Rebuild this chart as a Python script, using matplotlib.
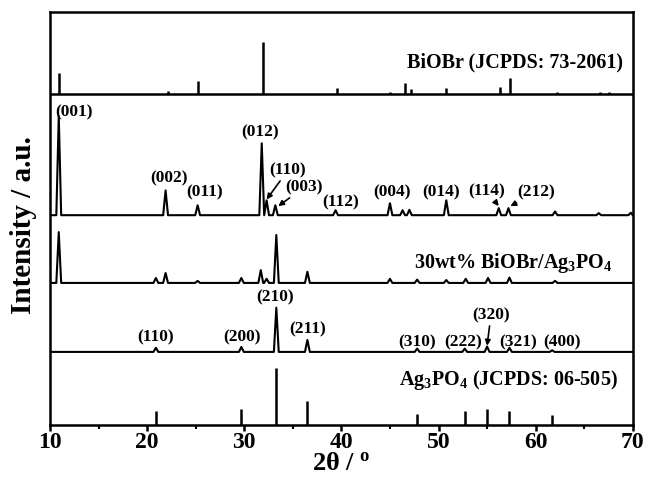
import numpy as np
import matplotlib
matplotlib.use("Agg")
from matplotlib import pyplot as plt

plt.rcParams['font.family'] = ['Liberation Serif', 'DejaVu Serif']
plt.rcParams['font.weight'] = 'bold'
plt.rcParams['mathtext.fontset'] = 'custom'
plt.rcParams['mathtext.rm'] = 'Liberation Serif:bold'
plt.rcParams['mathtext.bf'] = 'Liberation Serif:bold'
plt.rcParams['mathtext.it'] = 'Liberation Serif:bold'

# reference stick patterns (2theta, relative height)
biobr_ref_pos = [10.9, 22.1, 25.2, 31.9, 39.5, 45.0, 46.5, 47.2, 50.8, 56.3, 57.4, 62.2, 66.6, 67.6]
biobr_ref_h = [5.1, 0.8, 3.2, 12.6, 1.5, 0.6, 2.7, 1.2, 1.5, 1.7, 3.9, 0.6, 0.5, 0.6]

ag3po4_ref_pos = [20.9, 29.7, 33.3, 36.5, 47.8, 52.7, 55.0, 57.3, 61.7]
ag3po4_ref_h = [3.4, 3.9, 13.8, 5.8, 2.7, 3.4, 3.9, 3.4, 2.4]

# measured patterns: peak positions and heights above their baseline
biobr_pos = [10.9, 21.9, 25.2, 31.8, 32.3, 33.2, 39.4, 45.0, 46.3, 47.0, 50.8, 56.2, 57.2, 62.0, 66.5, 69.8]
biobr_h = [24.0, 6.0, 2.4, 17.4, 3.6, 2.4, 1.2, 2.9, 1.2, 1.3, 3.6, 1.7, 1.7, 0.9, 0.5, 0.6]

comp_pos = [10.9, 20.9, 21.9, 25.2, 29.7, 31.7, 32.3, 33.3, 36.5, 45.0, 47.8, 50.8, 52.8, 55.1, 57.3, 62.0]
comp_h = [12.3, 1.2, 2.4, 0.5, 1.2, 3.1, 1.0, 11.6, 2.7, 1.0, 0.8, 0.7, 1.0, 1.2, 1.3, 0.5]

ag_pos = [20.9, 29.7, 33.3, 36.5, 47.8, 52.7, 55.0, 57.3, 61.7]
ag_h = [1.0, 1.2, 10.7, 2.9, 0.8, 0.8, 1.3, 1.0, 0.4]

# baselines of each block
ag_ref_base = 0.0
ag_base = 17.7
comp_base = 34.4
biobr_base = 50.8
biobr_ref_base = 80.1

biobr_labels = ["(001)", "(002)", "(011)", "(012)", "(112)", "(004)", "(014)"]
biobr_lab_x = [12.5, 22.2, 25.9, 31.6, 39.9, 45.2, 50.3]
biobr_lab_y = [75.8, 59.8, 56.2, 70.9, 53.8, 56.4, 56.4]

ag_labels = ["(110)", "(200)", "(210)", "(211)", "(310)", "(222)", "(321)", "(400)"]
ag_lab_x = [20.9, 29.8, 33.2, 36.5, 47.8, 52.5, 58.2, 62.7]
ag_lab_y = [21.1, 21.3, 30.8, 23.2, 20.1, 20.1, 20.1, 20.1]


def profile(pos, h, base, w=0.25):
    xs = [10.0]
    ys = [base]
    for p, v in sorted(zip(pos, h)):
        xs += [p - w, p, p + w]
        ys += [base, base + v, base]
    xs.append(70.0)
    ys.append(base)
    return xs, ys


fig = plt.figure(figsize=(6.47, 4.79), dpi=100)
ax = fig.add_axes([0.0773, 0.1127, 0.9007, 0.8623])

for pos, h, base in [(biobr_pos, biobr_h, biobr_base),
                     (comp_pos, comp_h, comp_base),
                     (ag_pos, ag_h, ag_base)]:
    xs, ys = profile(pos, h, base)
    ax.plot(xs, ys, color='black', lw=1.5)

ax.vlines(biobr_ref_pos, biobr_ref_base, np.array(biobr_ref_h) + biobr_ref_base, color='black', lw=1.8)
ax.vlines(ag3po4_ref_pos, ag_ref_base, np.array(ag3po4_ref_h) + ag_ref_base, color='black', lw=1.8)
ax.axhline(biobr_ref_base, color='black', lw=1.8)

fs = 12.5
for t, x, y in zip(biobr_labels, biobr_lab_x, biobr_lab_y):
    ax.text(x, y, t, ha='center', va='center', fontsize=fs, fontweight='bold')
for t, x, y in zip(ag_labels, ag_lab_x, ag_lab_y):
    ax.text(x, y, t, ha='center', va='center', fontsize=fs, fontweight='bold')

arr = dict(arrowstyle='-|>', color='black', lw=1.2, mutation_scale=8, shrinkA=0, shrinkB=0)
ax.annotate("(110)", xy=(32.3, 54.6), xytext=(34.5, 61.7), ha='center', va='center',
            fontsize=fs, fontweight='bold', arrowprops=arr)
ax.annotate("(003)", xy=(33.5, 53.0), xytext=(36.2, 57.6), ha='center', va='center',
            fontsize=fs, fontweight='bold', arrowprops=arr)
ax.annotate("(114)", xy=(56.2, 53.0), xytext=(55.0, 56.6), ha='center', va='center',
            fontsize=fs, fontweight='bold', arrowprops=arr)
ax.annotate("(212)", xy=(57.4, 53.0), xytext=(60.1, 56.4), ha='center', va='center',
            fontsize=fs, fontweight='bold', arrowprops=arr)
ax.annotate("(320)", xy=(55.0, 19.2), xytext=(55.4, 26.6), ha='center', va='center',
            fontsize=fs, fontweight='bold', arrowprops=arr)

big = 14.5
ax.text(69.0, 87.7, "BiOBr (JCPDS: 73-2061)", ha='right', va='center', fontsize=big, fontweight='bold')
ax.text(67.9, 39.2, "30wt% BiOBr/Ag$_3$PO$_4$", ha='right', va='center', fontsize=big, fontweight='bold')
ax.text(68.5, 10.9, "Ag$_3$PO$_4$ (JCPDS: 06-505)", ha='right', va='center', fontsize=big, fontweight='bold')

ax.set_xlim(10, 70)
ax.set_ylim(0, 100)
ax.set_xticks([10, 20, 30, 40, 50, 60, 70])
ax.set_xticks([15, 25, 35, 45, 55, 65], minor=True)
ax.set_yticks([])
ax.tick_params(axis='x', which='major', direction='out', length=4, width=1.8, labelsize=17, pad=1)
ax.tick_params(axis='x', which='minor', direction='out', length=3, width=1.5)
for s in ax.spines.values():
    s.set_linewidth(1.8)

ax.set_xlabel("2θ / $^\\mathrm{o}$", fontsize=19, fontweight='bold', labelpad=-1)
ax.set_ylabel("Intensity / a.u.", fontsize=21, fontweight='bold')
ax.yaxis.set_label_coords(-0.022, 0.484)

fig.savefig("out.png", dpi=100)
